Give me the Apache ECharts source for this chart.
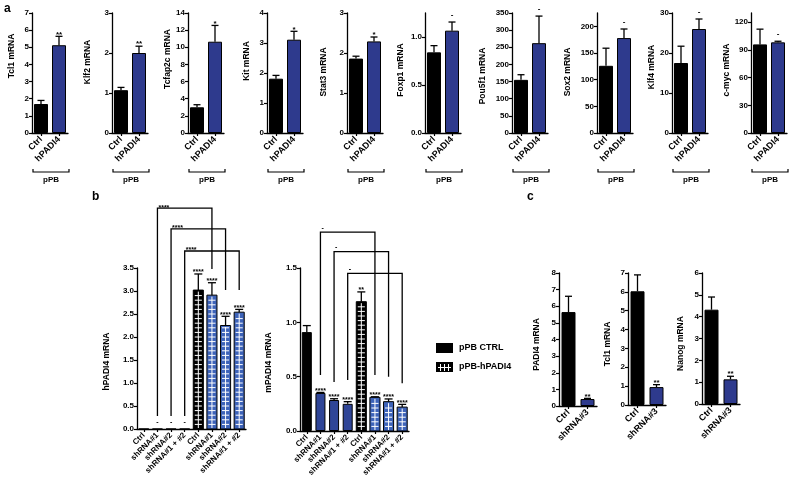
<!DOCTYPE html>
<html><head><meta charset="utf-8">
<script src="https://cdn.jsdelivr.net/npm/echarts@6/dist/echarts.min.js"></script>
<style>html,body{margin:0;padding:0;background:#fff}#c{width:800px;height:497px}</style>
</head><body><div id="c"></div>
<script>
// ---------- Panel a data ----------
const aGenes = ['Tcl1 mRNA','Klf2 mRNA','Tcfap2c mRNA','Kit mRNA','Stat3 mRNA','Foxp1 mRNA','Pou5f1 mRNA','Sox2 mRNA','Klf4 mRNA','c-myc mRNA'];
const aCategories = ['Ctrl','hPADI4'];
const aCtrl      = [1.69, 1.07, 3.0, 1.81, 1.86, 0.84, 155, 126, 17.5, 96];
const aCtrlErr   = [0.21, 0.07, 0.3, 0.11, 0.06, 0.07, 15, 33, 4.2, 16.5];
const aHPADI4    = [5.12, 2.0, 10.65, 3.11, 2.29, 1.066, 262, 178, 26, 98.2];
const aHPADI4Err = [0.52, 0.17, 1.9, 0.28, 0.11, 0.09, 79, 17, 2.5, 1.2];
const aSig       = ['**','**','*','*','*','-','-','-','-','-'];
const aYMax      = [7, 3, 14, 4, 3, 1.25, 350, 225, 30, 130];
const aYInterval = [1, 1, 2, 1, 1, 0.5, 50, 50, 10, 30];
const aDecimals  = [0, 0, 0, 0, 0, 1, 0, 0, 0, 0];

// ---------- Panel b data ----------
const bCategories = ['Ctrl','shRNA#1','shRNA#2','shRNA#1 + #2'];
const bHCtrl     = [0, 0, 0, 0];
const bHCtrlErr  = [0, 0, 0, 0];
const bHCtrlSig  = ['', '-', '-', '-'];
const bHHpadi    = [3.02, 2.91, 2.25, 2.54];
const bHHpadiErr = [0.35, 0.27, 0.2, 0.06];
const bHHpadiSig = ['****','****','****','****'];
const bMCtrl     = [0.91, 0.35, 0.285, 0.25];
const bMCtrlErr  = [0.06, 0.005, 0.012, 0.02];
const bMCtrlSig  = ['', '****', '****', '****'];
const bMHpadi    = [1.19, 0.31, 0.27, 0.22];
const bMHpadiErr = [0.09, 0.005, 0.025, 0.025];
const bMHpadiSig = ['**', '****', '****', '****'];
// comparisons: [from category, to category, bracket level, left leg end, right leg end, label]
const bHComp = [[1,5,4.8,0.28,3.48,'****'],[2,6,4.35,0.28,3.02,'****'],[3,7,3.87,0.28,3.02,'****']];
const bMComp = [[1,5,1.83,0.515,0.515,'-'],[2,6,1.65,0.45,0.5,'-'],[3,7,1.45,0.47,0.44,'-']];

// ---------- Panel c data ----------
const cGenes = ['PADI4 mRNA','Tcl1 mRNA','Nanog mRNA'];
const cCategories = ['Ctrl','shRNA#3'];
const cCtrl    = [5.65, 6.03, 4.32];
const cCtrlErr = [0.95, 0.87, 0.58];
const cSh      = [0.42, 0.95, 1.13];
const cShErr   = [0.04, 0.13, 0.14];
const cSig     = ['**','**','**'];
const cYMax    = [8, 7, 6];

// ---------- layout / style ----------
const FONT = 'Liberation Sans';
const BLUE_A = '#2e3a8d';
const BLUE_D = '#2f4597';
const BLUE_L = '#3d63b9';
const aAxisX = [32,112,188,267,347,425,512,597,672,751];
const aNameGap = [16,20,16,16,19,20,25,25,15,16];
const aNameShift = [17,11,14,12,1,3,-3,1,6,3];

const grids=[], xAxes=[], yAxes=[], series=[], graphics=[];

function tickList(max, step){ const t=[]; for(let v=0; v<=max+1e-9; v+=step) t.push(+v.toFixed(6)); return t; }

function addGrid(rect, cats, yMax, yInt, dec, name, nameGap, shift, xFont){
  const gi = grids.length;
  grids.push({left:rect[0], top:rect[1], width:rect[2], height:rect[3], containLabel:false, outerBoundsMode:'none'});
  xAxes.push({gridIndex:gi, type:'category', data:cats, boundaryGap:true,
    axisLine:{show:true, onZero:false, lineStyle:{color:'#000', width:1.3}},
    axisTick:{show:true, alignWithLabel:true, length:3, lineStyle:{color:'#000', width:1.2}},
    axisLabel:{interval:0, rotate:45, color:'#000', fontFamily:FONT, fontWeight:'bold', fontSize:xFont, margin:5},
    splitLine:{show:false}});
  const ticks = tickList(yMax, yInt);
  const pad = shift>=0 ? [0,0,0,2*shift] : [0,-2*shift,0,0];
  yAxes.push({gridIndex:gi, type:'value', min:0, max:yMax, interval:yInt,
    axisLine:{show:true, lineStyle:{color:'#000', width:1.3}},
    axisTick:{show:true, length:3, customValues:ticks, lineStyle:{color:'#000', width:1.2}},
    axisLabel:{color:'#000', fontFamily:FONT, fontWeight:'bold', fontSize:8, margin:3, customValues:ticks,
      formatter: v => (Math.abs(v/yInt - Math.round(v/yInt))<1e-6 ? v.toFixed(dec) : '')},
    splitLine:{show:false},
    name:name, nameLocation:'middle', nameGap:nameGap,
    nameTextStyle:{color:'#000', fontFamily:FONT, fontWeight:'bold', fontSize:8.5, padding:pad}});
  return gi;
}

function sigText(s, x, yTop, size){
  const yb = s.indexOf('*')>=0 ? yTop + 2 : yTop - 3;
  return {type:'text', x:x, y:yb, style:{text:s, fill:'#000', font:'bold '+size+'px '+FONT,
    align:'center', verticalAlign:'bottom', textAlign:'center', textVerticalAlign:'bottom'}};
}

function errSeries(gi, idx, vals, errs, sigs, capHalf, sigSize){
  return {type:'custom', xAxisIndex:gi, yAxisIndex:gi, clip:false, silent:true, z:5,
    data: vals.map((v,k)=>[idx[k], v, errs[k]]),
    renderItem:(params, api)=>{
      const c=api.value(0), v=api.value(1), e=api.value(2);
      const base=api.coord([c,v]), top=api.coord([c,v+e]);
      const ch=[];
      if(e>0){
        ch.push({type:'line', shape:{x1:base[0],y1:base[1],x2:top[0],y2:top[1]}, style:{stroke:'#000', lineWidth:1.3}});
        ch.push({type:'line', shape:{x1:top[0]-capHalf,y1:top[1],x2:top[0]+capHalf,y2:top[1]}, style:{stroke:'#000', lineWidth:1.3}});
      }
      const s=sigs[params.dataIndex];
      if(s) ch.push(sigText(s, top[0], top[1], sigSize));
      return {type:'group', children:ch};
    }};
}

function patternSeries(gi, name, idx, vals, colors){
  return {type:'custom', name:name, xAxisIndex:gi, yAxisIndex:gi, clip:false, z:2,
    data: vals.map((v,k)=>[idx[k], v]),
    renderItem:(params, api)=>{
      const c=api.value(0), v=api.value(1);
      const base=api.coord([c,0]), top=api.coord([c,v]);
      const w=api.size([1,0])[0]*0.74, x0=base[0]-w/2, h=base[1]-top[1];
      const ch=[{type:'rect', shape:{x:x0, y:top[1], width:w, height:h}, style:{fill:colors[params.dataIndex], stroke:'#000', lineWidth:1}}];
      ch.push({type:'line', shape:{x1:base[0], y1:top[1]+1.5, x2:base[0], y2:base[1]-1}, style:{stroke:'#fff', lineWidth:1}});
      for(let y=base[1]-4.6; y>top[1]+2; y-=4.6){
        ch.push({type:'line', shape:{x1:x0+1.5, y1:y, x2:x0+w-1.5, y2:y}, style:{stroke:'#fff', lineWidth:1}});
      }
      return {type:'group', children:ch};
    }};
}

function bracketSeries(gi, comps){
  return {type:'custom', xAxisIndex:gi, yAxisIndex:gi, clip:false, silent:true, z:6,
    data: comps.map(c=>[c[0],c[1],c[2],c[3],c[4]]),
    renderItem:(params, api)=>{
      const a=api.value(0), b=api.value(1), lv=api.value(2), le=api.value(3), re=api.value(4);
      const p1=api.coord([a,le]), p2=api.coord([a,lv]), p3=api.coord([b,lv]), p4=api.coord([b,re]);
      const lab=comps[params.dataIndex][5];
      const isStar = lab.indexOf('*')>=0;
      return {type:'group', children:[
        {type:'polyline', shape:{points:[p1,p2,p3,p4]}, style:{stroke:'#000', lineWidth:1.3, fill:null}},
        {type:'text', x:p2[0]+1, y:p2[1]+(isStar?3:-1), style:{text:lab, fill:'#000', font:'bold 7px '+FONT,
          align:'left', verticalAlign:'bottom', textAlign:'left', textVerticalAlign:'bottom'}}
      ]};
    }};
}

// ---------- Panel a ----------
aGenes.forEach((g,i)=>{
  const gi = addGrid([aAxisX[i], 13, 36, 120], aCategories, aYMax[i], aYInterval[i], aDecimals[i], g, aNameGap[i], aNameShift[i], 9);
  series.push({type:'bar', xAxisIndex:gi, yAxisIndex:gi, barWidth:14, z:2,
    itemStyle:{borderColor:'#000', borderWidth:1},
    data:[{value:aCtrl[i], itemStyle:{color:'#000'}}, {value:aHPADI4[i], itemStyle:{color:BLUE_A}}]});
  series.push(errSeries(gi, [0,1], [aCtrl[i], aHPADI4[i]], [aCtrlErr[i], aHPADI4Err[i]], ['', aSig[i]], 3.5, 8));
  const x = aAxisX[i];
  graphics.push({type:'polyline', shape:{points:[[x+1,169],[x+1,172],[x+37,172],[x+37,169]]}, style:{stroke:'#000', lineWidth:1.2, fill:null}});
  graphics.push({type:'text', x:x+19, y:180, style:{text:'pPB', font:'bold 8px '+FONT, fill:'#000', align:'center', verticalAlign:'middle', textAlign:'center', textVerticalAlign:'middle'}});
});

// ---------- Panel b ----------
const bX = bCategories.concat(bCategories);
const ctrlIdx=[0,1,2,3], hIdx=[4,5,6,7];
const ctrlColors=['#000',BLUE_D,BLUE_D,BLUE_D], hColors=['#000',BLUE_L,BLUE_L,BLUE_L];

const gH = addGrid([137,268,109,161], bX, 3.5, 0.5, 1, 'hPADI4 mRNA', 26, -13, 8);
series.push({type:'bar', name:'pPB CTRL', xAxisIndex:gH, yAxisIndex:gH, barWidth:10, z:2,
  itemStyle:{borderColor:'#000', borderWidth:1},
  data:bHCtrl.map((v,k)=>({value:v, itemStyle:{color:ctrlColors[k]}}))});
series.push(patternSeries(gH, 'pPB-hPADI4', hIdx, bHHpadi, hColors));
series.push(errSeries(gH, ctrlIdx, bHCtrl, bHCtrlErr, bHCtrlSig, 4, 7));
series.push(errSeries(gH, hIdx, bHHpadi, bHHpadiErr, bHHpadiSig, 4, 7));
series.push(bracketSeries(gH, bHComp));

const gM = addGrid([300,268,109,163], bX, 1.5, 0.5, 1, 'mPADI4 mRNA', 27, -13, 8);
series.push({type:'bar', name:'pPB CTRL', xAxisIndex:gM, yAxisIndex:gM, barWidth:10, z:2,
  itemStyle:{borderColor:'#000', borderWidth:1},
  data:bMCtrl.map((v,k)=>({value:v, itemStyle:{color:ctrlColors[k]}}))});
series.push(patternSeries(gM, 'pPB-hPADI4', hIdx, bMHpadi, hColors));
series.push(errSeries(gM, ctrlIdx, bMCtrl, bMCtrlErr, bMCtrlSig, 4, 7));
series.push(errSeries(gM, hIdx, bMHpadi, bMHpadiErr, bMHpadiSig, 4, 7));
series.push(bracketSeries(gM, bMComp));

// ---------- Panel c ----------
const cRects = [[559,273,38,133],[628,273,38,132],[702,273,38,131]];
const cNameGap = [18,16,17];
cGenes.forEach((g,i)=>{
  const gi = addGrid(cRects[i], cCategories, cYMax[i], 1, 0, g, cNameGap[i], -5, 9);
  series.push({type:'bar', xAxisIndex:gi, yAxisIndex:gi, barWidth:14, z:2,
    itemStyle:{borderColor:'#000', borderWidth:1},
    data:[{value:cCtrl[i], itemStyle:{color:'#000'}}, {value:cSh[i], itemStyle:{color:BLUE_A}}]});
  series.push(errSeries(gi, [0,1], [cCtrl[i], cSh[i]], [cCtrlErr[i], cShErr[i]], ['', cSig[i]], 3.5, 8));
});

// ---------- panel letters ----------
[['a',4,3],['b',92,191],['c',527,191]].forEach(t=>{
  graphics.push({type:'text', x:t[1], y:t[2], style:{text:t[0], font:'bold 12px '+FONT, fill:'#000', align:'left', verticalAlign:'top', textAlign:'left', textVerticalAlign:'top'}});
});

// ---------- legend pattern icon ----------
const cv = document.createElement('canvas'); cv.width=17; cv.height=10;
const cx = cv.getContext('2d');
cx.fillStyle='#000'; cx.fillRect(0,0,17,10);
cx.strokeStyle='#fff'; cx.lineWidth=1;
cx.beginPath(); cx.moveTo(2,5.5); cx.lineTo(15,5.5);
[4.5,8.5,12.5].forEach(x=>{cx.moveTo(x,2); cx.lineTo(x,9);});
cx.stroke();
const patternURL = cv.toDataURL();

const chart = echarts.init(document.getElementById('c'), null, {renderer:'canvas', width:800, height:497});
chart.setOption({
  animation:false,
  backgroundColor:'#fff',
  grid:grids, xAxis:xAxes, yAxis:yAxes, series:series,
  legend:{orient:'vertical', left:431, top:338, itemWidth:17, itemHeight:10, itemGap:9, selectedMode:false,
    textStyle:{fontFamily:FONT, fontWeight:'bold', fontSize:9, color:'#000', padding:[0,0,0,1]},
    data:[{name:'pPB CTRL', icon:'rect', itemStyle:{color:'#000', borderWidth:0}},
          {name:'pPB-hPADI4', icon:'image://'+patternURL}]},
  graphic:graphics
});
</script></body></html>
